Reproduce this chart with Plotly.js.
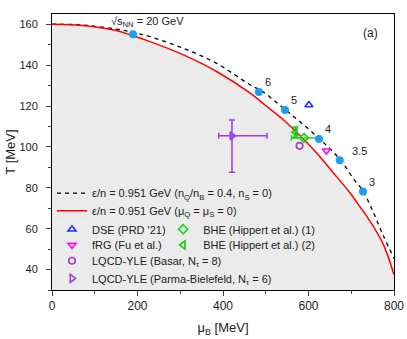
<!DOCTYPE html>
<html>
<head>
<meta charset="utf-8">
<script src="https://cdn.plot.ly/plotly-3.0.1.min.js"></script>
<style>
  html, body { margin: 0; padding: 0; background: #fff; }
  #plot { width: 407px; height: 339px; }
</style>
</head>
<body>
<div id="plot"></div>
<script>
// freeze-out curves
var muRed = [0, 72, 150, 190, 228, 306, 384, 462, 501, 540, 579, 618, 657, 696, 720, 735, 774, 800];
var tRed  = [160, 159.4, 156.9, 154.3, 151.6, 145.1, 137, 126.5, 120, 113.5, 105.7, 97.3, 87.6, 77.8, 70.8, 66.5, 52.8, 37.5];

var muDash = [0, 72, 150, 190, 228, 306, 384, 462, 491, 540, 618, 673, 708, 727, 751, 774, 800];
var tDash  = [160, 159.6, 157.6, 156, 154, 148.3, 141, 130.5, 127.3, 119.2, 105.4, 94, 83.6, 78.6, 68.3, 57, 45.5];

// chemical freeze-out points, labelled by sqrt(s_NN) in GeV
var snnLabels = ["20", "6", "5", "4", "3.5", "3"];
var muSnn = [189.5, 484, 545, 624.6, 673, 727.5];
var tSnn  = [155.1, 126.9, 118, 103.9, 93.5, 78.2];

// critical point estimates
var muDSE = [601], tDSE = [120.5];
var muFRG = [642], tFRG = [98.1];
var muBasar = [579], tBasar = [100.5];
var muBHE1 = [589.5], tBHE1 = [104.4], bhe1ErrMinus = [29.5], bhe1ErrPlus = [35];
var muBHE2 = [569], tBHE2 = [107.2], bhe2ErrT = [2.5];
var muParma = [421], tParma = [105.4];
var parmaMuMinus = [31], parmaMuPlus = [82], parmaTMinus = [17.8], parmaTPlus = [7.8];

var font = "Liberation Sans, Arial, sans-serif";

var fillArea = {
  x: muRed, y: tRed, type: "scatter", mode: "lines",
  line: {width: 0, shape: "spline"}, fill: "tozeroy", fillcolor: "#ebebeb",
  showlegend: false, hoverinfo: "skip"
};

var dashLine = {
  x: muDash, y: tDash, type: "scatter", mode: "lines",
  name: "ε/n = 0.951 GeV (n<sub>Q</sub>/n<sub>B</sub> = 0.4, n<sub>S</sub> = 0)",
  line: {color: "black", width: 1.3, dash: "4px,4px", shape: "spline"},
  legend: "legend"
};

var redLine = {
  x: muRed, y: tRed, type: "scatter", mode: "lines",
  name: "ε/n = 0.951 GeV (μ<sub>Q</sub> = μ<sub>S</sub> = 0)",
  line: {color: "#ff0000", width: 1.5, shape: "spline"},
  legend: "legend2"
};

var snnPts = {
  x: muSnn, y: tSnn, type: "scatter", mode: "markers",
  marker: {color: "#1c9ef2", size: 8},
  showlegend: false
};

var dse = {
  x: muDSE, y: tDSE, type: "scatter", mode: "markers", name: "DSE (PRD '21)",
  marker: {symbol: "triangle-up-open", color: "#1f2fff", size: 7, line: {width: 1.6}},
  legend: "legend3"
};

var frg = {
  x: muFRG, y: tFRG, type: "scatter", mode: "markers", name: "fRG (Fu et al.)",
  marker: {symbol: "triangle-down-open", color: "#ff00ff", size: 7, line: {width: 1.6}},
  legend: "legend4"
};

var basar = {
  x: muBasar, y: tBasar, type: "scatter", mode: "markers",
  name: "LQCD-YLE (Basar, N<sub>τ</sub> = 8)",
  marker: {symbol: "circle-open", color: "#a040c8", size: 6.5, line: {width: 1.6}},
  legend: "legend5"
};

var parma = {
  x: muParma, y: tParma, type: "scatter", mode: "markers",
  name: "LQCD-YLE (Parma-Bielefeld, N<sub>τ</sub> = 6)",
  marker: {symbol: "triangle-right-open", color: "#9b3cf0", size: 7, line: {width: 1.6}},
  error_x: {type: "data", symmetric: false, array: parmaMuPlus, arrayminus: parmaMuMinus,
            color: "#9b3cf0", thickness: 1.5, width: 3},
  error_y: {type: "data", symmetric: false, array: parmaTPlus, arrayminus: parmaTMinus,
            color: "#9b3cf0", thickness: 1.5, width: 3},
  legend: "legend6"
};

var bhe1 = {
  x: muBHE1, y: tBHE1, type: "scatter", mode: "markers",
  name: "BHE (Hippert et al.) (1)",
  marker: {symbol: "diamond-open", color: "#11dd11", size: 7, line: {width: 1.6}},
  error_x: {type: "data", symmetric: false, array: bhe1ErrPlus, arrayminus: bhe1ErrMinus,
            color: "#11dd11", thickness: 1.5, width: 3},
  legend: "legend7"
};

var bhe2 = {
  x: muBHE2, y: tBHE2, type: "scatter", mode: "markers",
  name: "BHE (Hippert et al.) (2)",
  marker: {symbol: "triangle-left-open", color: "#11cc11", size: 7, line: {width: 1.6}},
  error_y: {type: "data", array: bhe2ErrT, color: "#11cc11", thickness: 1.5, width: 3},
  legend: "legend8"
};

var data = [fillArea, dashLine, redLine, parma, bhe1, bhe2, basar, dse, frg, snnPts];

function leg(x, y) {
  return {x: x, y: y, xanchor: "left", yanchor: "middle", bgcolor: "rgba(0,0,0,0)",
          borderwidth: 0, font: {family: font, size: 11, color: "#222"}};
}

var annotations = [];
var shifts = [[0, 0], [7, 10], [7, 10], [7, 10], [13, 9], [7, 9]];
for (var i = 0; i < snnLabels.length; i++) {
  var txt = i === 0 ? "√s<sub>NN</sub> = " + snnLabels[i] + " GeV" : snnLabels[i];
  annotations.push({
    x: muSnn[i], y: tSnn[i], xref: "x", yref: "y", text: txt, showarrow: false,
    xanchor: i === 0 ? "center" : "left", yanchor: "bottom",
    xshift: i === 0 ? 14 : shifts[i][0] - 3, yshift: i === 0 ? 3 : shifts[i][1] - 8,
    font: {family: font, size: 11, color: "#222"}
  });
}
annotations.push({
  x: 0.96, y: 0.965, xref: "paper", yref: "paper", text: "(a)", showarrow: false,
  font: {family: font, size: 12, color: "#222"}
});

var layout = {
  width: 407, height: 339,
  margin: {l: 52, r: 13, t: 14, b: 49},
  paper_bgcolor: "white", plot_bgcolor: "white",
  font: {family: font, color: "#222"},
  xaxis: {
    range: [0, 800], dtick: 200, ticks: "outside", ticklen: 5, tickwidth: 1,
    showgrid: false, zeroline: false, showline: true, mirror: true,
    linecolor: "black", linewidth: 1,
    minor: {dtick: 100, ticks: "outside", ticklen: 3, showgrid: false},
    tickfont: {family: font, size: 12, color: "#222"},
    title: {text: "μ<sub>B</sub> [MeV]", font: {family: font, size: 13, color: "#222"}, standoff: 10}
  },
  yaxis: {
    range: [30, 165], dtick: 20, tick0: 0, ticks: "outside", ticklen: 5, tickwidth: 1,
    ticklabelstandoff: 6,
    showgrid: false, zeroline: false, showline: true, mirror: true,
    linecolor: "black", linewidth: 1,
    minor: {dtick: 10, ticks: "outside", ticklen: 3, showgrid: false},
    tickfont: {family: font, size: 11, color: "#222"},
    title: {text: "T [MeV]", font: {family: font, size: 13, color: "#222"}, standoff: 0}
  },
  legend: leg(0.0, 0.351),
  legend2: leg(0.0, 0.287),
  legend3: leg(0.0, 0.220),
  legend4: leg(0.0, 0.163),
  legend5: leg(0.0, 0.106),
  legend6: leg(0.0, 0.042),
  legend7: leg(0.325, 0.220),
  legend8: leg(0.325, 0.163),
  annotations: annotations
};

Plotly.newPlot("plot", data, layout, {displayModeBar: false, staticPlot: true});
</script>
</body>
</html>
